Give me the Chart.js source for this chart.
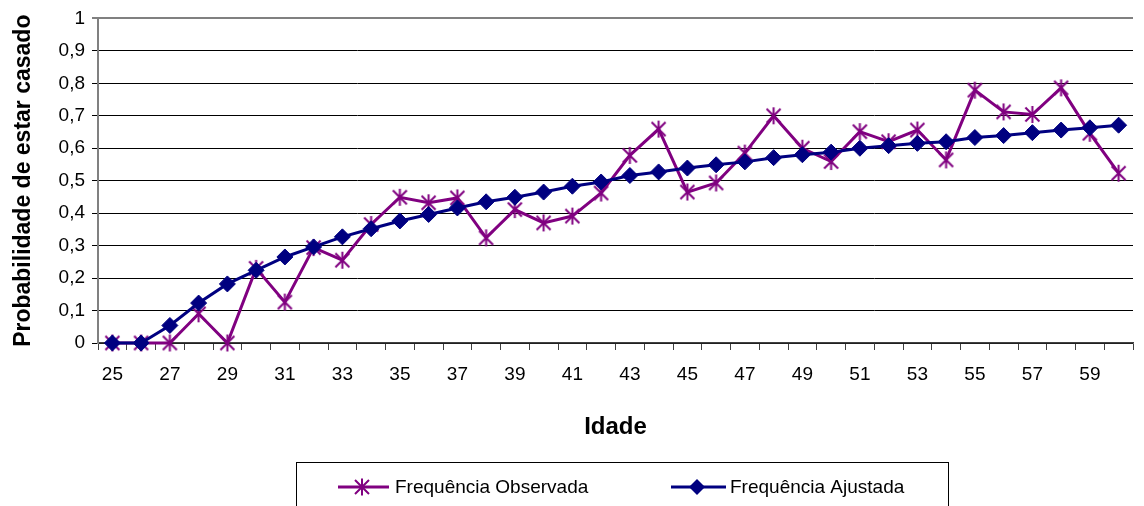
<!DOCTYPE html>
<html>
<head>
<meta charset="utf-8">
<script src="https://cdn.jsdelivr.net/npm/chart.js@4/dist/chart.umd.min.js"></script>
<style>
  html, body { margin: 0; padding: 0; background: #ffffff; }
  #wrap { width: 1144px; height: 506px; }
</style>
</head>
<body>
<div id="wrap"><canvas id="c" width="1144" height="506"></canvas></div>
<script>
// ---- data ----
const ages = ['25','26','27','28','29','30','31','32','33','34','35','36','37','38','39','40','41','42',
              '43','44','45','46','47','48','49','50','51','52','53','54','55','56','57','58','59','60'];
const observed = [0, 0, 0, 0.09, 0, 0.23, 0.126, 0.294, 0.255, 0.365, 0.449, 0.432, 0.447, 0.324,
                  0.411, 0.37, 0.391, 0.462, 0.578, 0.659, 0.465, 0.493, 0.585, 0.70, 0.60, 0.559,
                  0.651, 0.62, 0.656, 0.564, 0.779, 0.712, 0.704, 0.786, 0.646, 0.523];
const adjusted = [0, 0, 0.054, 0.123, 0.182, 0.224, 0.265, 0.296, 0.327, 0.352, 0.376, 0.396, 0.416,
                  0.435, 0.449, 0.465, 0.483, 0.496, 0.516, 0.527, 0.539, 0.549, 0.558, 0.571, 0.58,
                  0.588, 0.60, 0.608, 0.615, 0.62, 0.633, 0.639, 0.648, 0.656, 0.663, 0.671];
const seriesNames = ['Frequência Observada', 'Frequência Ajustada'];
const xTitle = 'Idade';
const yTitle = 'Probabilidade de estar casado';
const yTickValues = [0, 0.1, 0.2, 0.3, 0.4, 0.5, 0.6, 0.7, 0.8, 0.9, 1];
const yTickLabels = ['0', '0,1', '0,2', '0,3', '0,4', '0,5', '0,6', '0,7', '0,8', '0,9', '1'];

// ---- styles ----
const PURPLE = '#800080';
const NAVY = '#000080';
const FONT = '"Liberation Sans", Arial, sans-serif';

function drawStar(ctx, x, y, color) {
  ctx.save();
  ctx.strokeStyle = color;
  ctx.lineWidth = 2;
  ctx.lineCap = 'butt';
  ctx.beginPath();
  ctx.moveTo(x - 7, y - 7); ctx.lineTo(x + 7, y + 7);
  ctx.moveTo(x + 7, y - 7); ctx.lineTo(x - 7, y + 7);
  ctx.moveTo(x, y - 8.5); ctx.lineTo(x, y + 8.5);
  ctx.stroke();
  ctx.restore();
}
function drawDiamond(ctx, x, y, r, color) {
  ctx.save();
  ctx.fillStyle = color;
  ctx.beginPath();
  ctx.moveTo(x, y - r); ctx.lineTo(x + r, y); ctx.lineTo(x, y + r); ctx.lineTo(x - r, y);
  ctx.closePath();
  ctx.fill();
  ctx.restore();
}

const starCanvas = document.createElement('canvas');
starCanvas.width = 19; starCanvas.height = 19;
drawStar(starCanvas.getContext('2d'), 9.5, 9.5, PURPLE);

const legendPlugin = {
  id: 'boxLegend',
  afterDraw(chart) {
    const ctx = chart.ctx;
    ctx.save();
    ctx.strokeStyle = '#000000';
    ctx.lineWidth = 1;
    ctx.strokeRect(296.5, 462.5, 652, 60);
    const y = 487;
    ctx.lineWidth = 3;
    ctx.strokeStyle = PURPLE;
    ctx.beginPath(); ctx.moveTo(338, y); ctx.lineTo(389, y); ctx.stroke();
    drawStar(ctx, 362, y, PURPLE);
    ctx.strokeStyle = NAVY;
    ctx.beginPath(); ctx.moveTo(671, y); ctx.lineTo(726, y); ctx.stroke();
    drawDiamond(ctx, 697, y, 8, NAVY);
    ctx.fillStyle = '#000000';
    ctx.font = '19px ' + FONT;
    ctx.textBaseline = 'middle';
    ctx.textAlign = 'left';
    ctx.fillText(seriesNames[0], 395, y + 1);
    ctx.fillText(seriesNames[1], 730, y + 1);
    ctx.restore();
  }
};

new Chart(document.getElementById('c'), {
  type: 'line',
  data: {
    labels: ages,
    datasets: [
      {
        label: seriesNames[0],
        data: observed,
        borderColor: PURPLE,
        backgroundColor: PURPLE,
        borderWidth: 3,
        pointStyle: starCanvas,
        pointRadius: 8,
        pointHoverRadius: 8,
        tension: 0,
        clip: false,
        order: 1
      },
      {
        label: seriesNames[1],
        data: adjusted,
        borderColor: NAVY,
        backgroundColor: NAVY,
        borderWidth: 3,
        pointStyle: 'rectRot',
        pointRadius: 8,
        pointHoverRadius: 8,
        pointBorderWidth: 1,
        pointBorderColor: NAVY,
        tension: 0,
        clip: false,
        order: 0
      }
    ]
  },
  options: {
    responsive: false,
    animation: false,
    devicePixelRatio: 1,
    layout: { padding: { left: 0, right: 2, top: 16, bottom: 63 } },
    plugins: { legend: { display: false }, tooltip: { enabled: false } },
    scales: {
      x: {
        offset: true,
        afterFit(scale) { scale.height = 100; },
        grid: { display: true, drawOnChartArea: false, drawTicks: true, tickLength: 7, offset: true, color: '#404040', lineWidth: 1 },
        border: { display: true, color: '#404040', width: 1.5 },
        ticks: {
          autoSkip: false, maxRotation: 0, minRotation: 0, padding: 13,
          color: '#000000', font: { family: FONT, size: 19 },
          callback(value, index) { return index % 2 === 0 ? ages[index] : ''; }
        },
        title: { display: true, text: xTitle, color: '#000000', font: { family: FONT, size: 24, weight: 'bold' }, padding: { top: 0, bottom: 1 } }
      },
      y: {
        min: 0, max: 1,
        afterFit(scale) { scale.width = 98; },
        afterBuildTicks(scale) { scale.ticks = yTickValues.map(v => ({ value: v })); },
        grid: {
          color(ctx) { return ctx.tick && ctx.tick.value === 1 ? '#808080' : '#000000'; },
          lineWidth(ctx) { return ctx.tick && ctx.tick.value === 1 ? 2 : 1; },
          tickLength: 6, drawTicks: true
        },
        border: { display: true, color: '#808080', width: 2 },
        ticks: {
          padding: 7, color: '#000000', font: { family: FONT, size: 19 },
          callback(value, index) { return yTickLabels[index]; }
        },
        title: { display: true, text: yTitle, color: '#000000', font: { family: FONT, size: 23, weight: 'bold' }, padding: { top: 10, bottom: 0 } }
      }
    }
  },
  plugins: [legendPlugin]
});
</script>
</body>
</html>
